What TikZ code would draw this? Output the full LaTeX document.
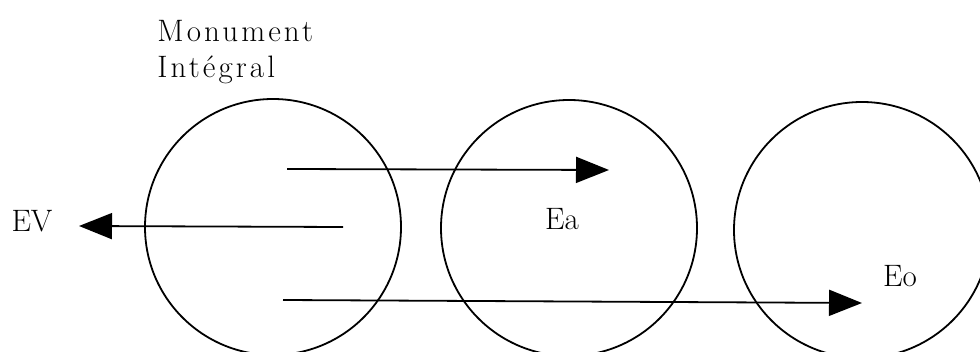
\documentclass[tikz,border=0pt]{standalone}
\usepackage{fontspec}
\newfontfamily\titlefont{Latin Modern Roman}[LetterSpace=10]
\usepackage{tikz}
\usetikzlibrary{arrows.meta}

\begin{document}
\begin{tikzpicture}[
  x=0.5pt,y=-0.5pt,
  font=\fontsize{15.5}{18}\selectfont,
  ring/.style={draw,circle,line width=0.9pt,minimum size=128pt,inner sep=0pt},
  lbl/.style={inner sep=0pt},
  flow/.style={-{Triangle[length=16.5pt,width=13pt]},line width=0.9pt},
]
\useasboundingbox (0,0) rectangle (980,352);
\clip (0,0) rectangle (980,352);

\node[ring] (mi) at (273,227) {};
\node[ring] (ea) at (569,228) {};
\node[ring] (eo) at (862,230) {};

\node[lbl,align=left,anchor=north west,font=\titlefont\fontsize{15.5}{18}\selectfont] (title) at (157,20) {Monument\\Intégral};
\node[lbl] (ev) at (32,221.5) {EV};
\node[lbl] (ealabel) at (562,219.5) {Ea};
\node[lbl] (eolabel) at (900,276) {Eo};

% arrows start inside the first circle
\coordinate (topstart) at (287,169);
\coordinate (toptip) at (609,170);
\coordinate (midstart) at (343,227);
\coordinate (midtip) at (79,226);
\coordinate (lowstart) at (283,300);
\coordinate (lowtip) at (862,303);

\draw[flow] (topstart) -- (toptip);
\draw[flow] (midstart) -- (midtip);
\draw[flow] (lowstart) -- (lowtip);
\end{tikzpicture}
\end{document}
